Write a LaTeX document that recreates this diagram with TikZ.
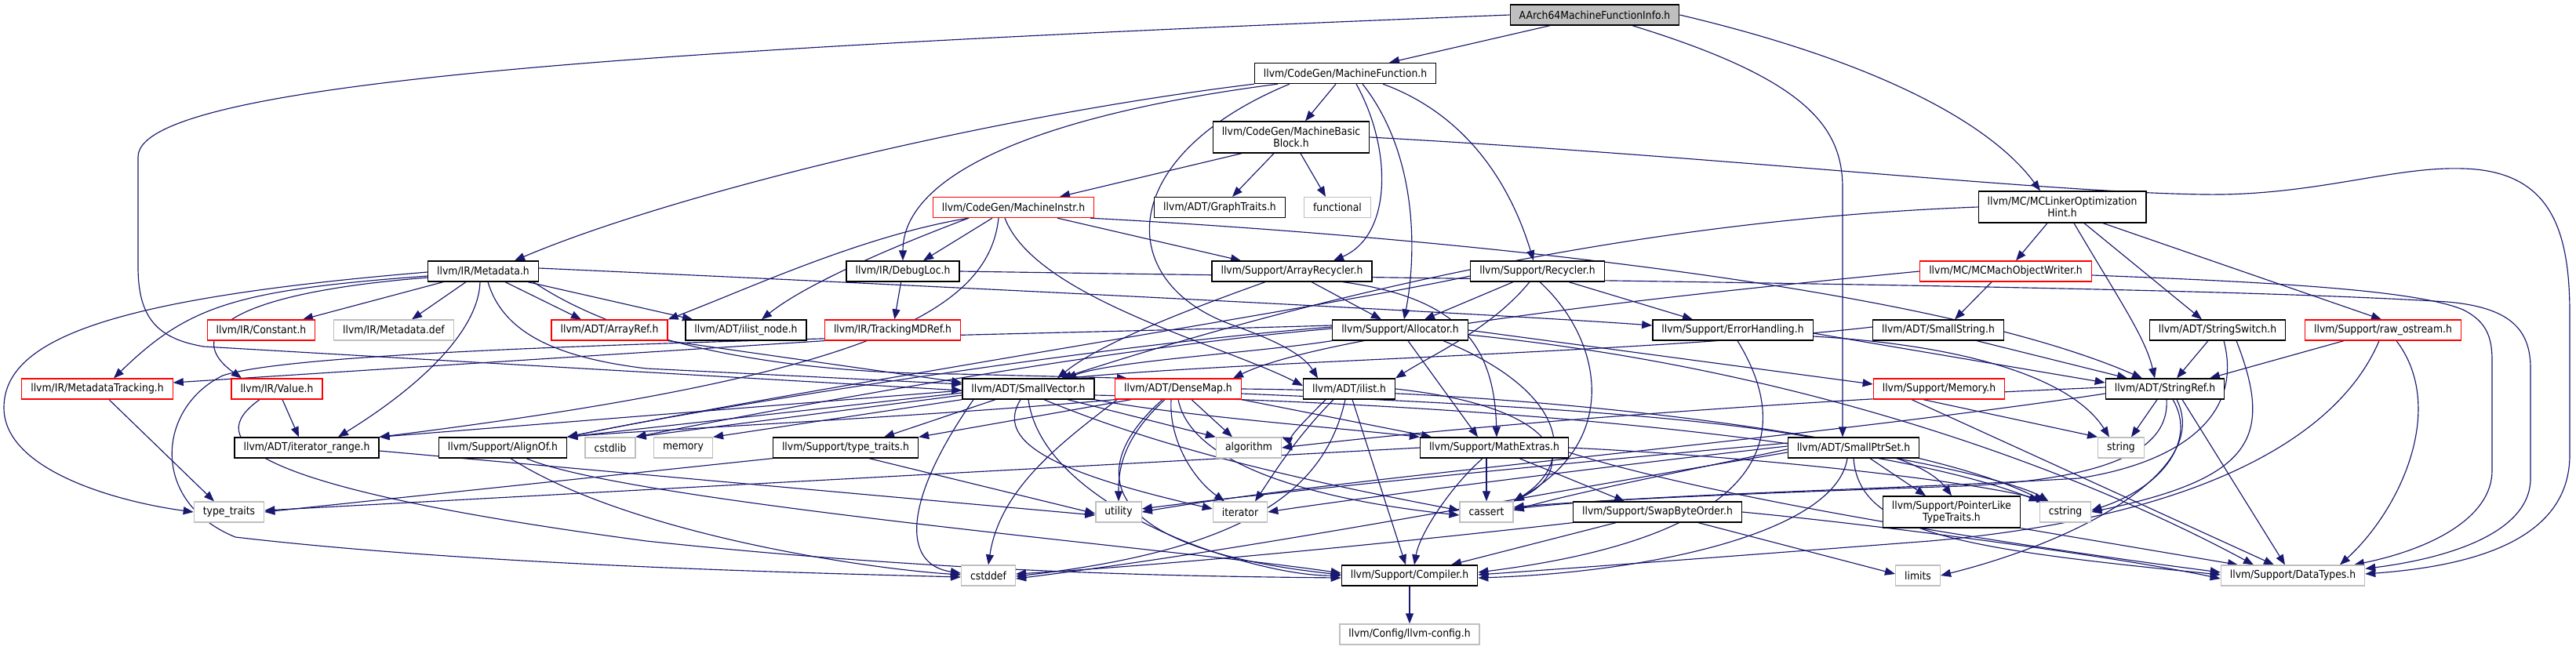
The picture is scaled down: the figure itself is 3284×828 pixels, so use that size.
\documentclass[tikz,border=0pt]{standalone}
\usepackage{fontspec}
\newfontfamily\dvs[FakeStretch=0.9]{DejaVu Sans}
\usetikzlibrary{arrows.meta}
\definecolor{edgec}{HTML}{191970}
\definecolor{grayb}{HTML}{BFBFBF}
\definecolor{redb}{HTML}{FF0000}
\pgfdeclarelayer{bg}
\pgfsetlayers{bg,main}
\begin{document}
\begin{tikzpicture}[x=1pt,y=-1pt,
  nb/.style={draw=black, line width=1.3pt, fill=white, font=\dvs\fontsize{13.8}{15}\selectfont, minimum height=26pt, inner xsep=11.5pt, inner ysep=0pt},
  nr/.style={nb, draw=redb},
  ng/.style={nb, draw=grayb},
  nroot/.style={nb, fill=grayb},
  two/.style={align=center, minimum height=40pt},
  e/.style={draw=edgec, line width=1.15pt, -{Triangle[length=13pt,width=10pt]}}]
\path[use as bounding box] (0,0) rectangle (3284,828);
% rank 0-4
\node[nroot] (A) at (2033,19) {AArch64MachineFunctionInfo.h};
\node[nb] (MF) at (1715,93.5) {llvm/CodeGen/MachineFunction.h};
\node[nb,two] (MBB) at (1646,175) {llvm/CodeGen/MachineBasic\\Block.h};
\node[nr] (MI) at (1292,264.5) {llvm/CodeGen/MachineInstr.h};
\node[nb] (GT) at (1555,264.5) {llvm/ADT/GraphTraits.h};
\node[ng] (FN) at (1705,264.5) {functional};
\node[nb,two] (LOH) at (2629,264) {llvm/MC/MCLinkerOptimization\\Hint.h};
\node[nb] (MD) at (616,346) {llvm/IR/Metadata.h};
\node[nb] (DL) at (1151,346) {llvm/IR/DebugLoc.h};
\node[nb] (AR) at (1647,346) {llvm/Support/ArrayRecycler.h};
\node[nb] (RC) at (1960,346) {llvm/Support/Recycler.h};
\node[nr] (MOW) at (2557,346) {llvm/MC/MCMachObjectWriter.h};
% rank 5
\node[nr] (CONST) at (333,421) {llvm/IR/Constant.h};
\node[ng] (MDDEF) at (502,421) {llvm/IR/Metadata.def};
\node[nr] (AREF) at (777,421) {llvm/ADT/ArrayRef.h};
\node[nb] (ILN) at (951,421) {llvm/ADT/ilist\_node.h};
\node[nr] (TMD) at (1138,421) {llvm/IR/TrackingMDRef.h};
\node[nb] (ALLOC) at (1785,421) {llvm/Support/Allocator.h};
\node[nb] (EH) at (2209,421) {llvm/Support/ErrorHandling.h};
\node[nb] (SS) at (2471,421) {llvm/ADT/SmallString.h};
\node[nb] (SSW) at (2827,421) {llvm/ADT/StringSwitch.h};
\node[nr] (ROS) at (3038,421) {llvm/Support/raw\_ostream.h};
% rank 6
\node[nr] (MDT) at (124,496) {llvm/IR/MetadataTracking.h};
\node[nr] (VAL) at (353,496) {llvm/IR/Value.h};
\node[nb] (SV) at (1311,496) {llvm/ADT/SmallVector.h};
\node[nr] (DM) at (1502,496) {llvm/ADT/DenseMap.h};
\node[nb] (IL) at (1720,496) {llvm/ADT/ilist.h};
\node[nr] (MEM) at (2472,496) {llvm/Support/Memory.h};
\node[nb] (SR) at (2760,496) {llvm/ADT/StringRef.h};
% rank 7
\node[nb] (IR) at (391,571) {llvm/ADT/iterator\_range.h};
\node[nb] (AO) at (641,571) {llvm/Support/AlignOf.h};
\node[ng] (CSTDLIB) at (778,571) {cstdlib};
\node[ng] (MEMORY) at (871,571) {memory};
\node[nb] (STT) at (1078,571) {llvm/Support/type\_traits.h};
\node[ng] (ALG) at (1592,571) {algorithm};
\node[nb] (ME) at (1905,571) {llvm/Support/MathExtras.h};
\node[nb] (SPS) at (2363,571) {llvm/ADT/SmallPtrSet.h};
\node[ng] (STR) at (2704,571) {string};
% rank 8
\node[ng] (TT) at (292,653) {type\_traits};
\node[ng] (UT) at (1426,653) {utility};
\node[ng] (IT) at (1581,653) {iterator};
\node[ng] (CA) at (1895,653) {cassert};
\node[nb] (SBO) at (2113,653) {llvm/Support/SwapByteOrder.h};
\node[nb,two] (PLT) at (2488,653) {llvm/Support/PointerLike\\TypeTraits.h};
\node[ng] (CSTR) at (2633,653) {cstring};
% rank 9-10
\node[ng] (CD) at (1260,734) {cstddef};
\node[nb] (COMP) at (1797,734) {llvm/Support/Compiler.h};
\node[ng] (LIM) at (2445,734) {limits};
\node[ng] (DT) at (2923,734) {llvm/Support/DataTypes.h};
\node[ng] (CFG) at (1797,809) {llvm/Config/llvm-config.h};

\begin{pgfonlayer}{bg}
% AArch64
\draw[e] ([xshift=-57pt]A.south) -- ([xshift=56pt]MF.north);
\draw[e] (A.west) .. controls (900,60) and (176,100) .. (176,200) -- (176,340) .. controls (176,405) and (200,432) .. (260,442) -- ([yshift=-2pt]SV.west);
\draw[e] ([xshift=48pt]A.south) .. controls (2300,100) and (2349,160) .. (2349,240) -- ([xshift=-14pt]SPS.north);
\draw[e] (A.east) .. controls (2400,80) and (2540,160) .. ([xshift=-28pt]LOH.north);
% MachineFunction
\draw[e] (MF.south west) .. controls (1250,150) and (850,250) .. ([xshift=40pt]MD.north);
\draw[e] ([xshift=-86pt]MF.south) .. controls (1300,150) and (1151,230) .. (DL.north);
\draw[e] ([xshift=-12pt]MF.south) -- ([xshift=18pt]MBB.north);
\draw[e] ([xshift=14pt]MF.south) .. controls (1775,190) and (1775,300) .. ([xshift=53pt]AR.north);
\draw[e] ([xshift=22pt]MF.south) .. controls (1810,200) and (1805,330) .. ([xshift=5pt]ALLOC.north);
\draw[e] ([xshift=48pt]MF.south) .. controls (1880,150) and (1930,250) .. ([xshift=-5pt]RC.north);
\draw[e] ([xshift=-71pt]MF.south) .. controls (1420,200) and (1420,360) .. (1570,414) .. controls (1620,432) and (1660,450) .. ([xshift=-40pt]IL.north);
% MachineBasicBlock
\draw[e] ([xshift=-63pt]MBB.south) -- ([xshift=59pt]MI.north);
\draw[e] ([xshift=-22pt]MBB.south) -- ([xshift=16pt]GT.north);
\draw[e] ([xshift=12pt]MBB.south) -- ([xshift=-15pt]FN.north);
\draw[e] (MBB.east) .. controls (2200,200) and (2600,245) .. (2810,248) .. controls (2950,250) and (3050,212) .. (3140,215) .. controls (3250,218) and (3276,290) .. (3276,400) -- (3276,580) .. controls (3276,690) and (3150,722) .. ([yshift=2pt]DT.east);
% MachineInstr
\draw[e] ([xshift=-57pt]MI.south) .. controls (1100,300) and (950,370) .. (AREF.north east);
\draw[e] ([xshift=-57pt]MI.south) .. controls (1150,310) and (1030,360) .. ([xshift=20pt]ILN.north);
\draw[e] ([xshift=-27pt]MI.south) -- ([xshift=26pt]DL.north);
\draw[e] ([xshift=-19pt]MI.south) .. controls (1260,400) and (1100,480) .. (IR.north east);
\draw[e] ([xshift=-11pt]MI.south) .. controls (1320,380) and (1560,440) .. ([yshift=4pt]IL.west);
\draw[e] ([xshift=56pt]MI.south) -- ([xshift=-65pt]AR.north);
\draw[e] ([xshift=98pt]MI.south) .. controls (1800,300) and (2450,360) .. ([xshift=-29pt]SR.north);
% LinkerOptimizationHint
\draw[e] ([xshift=-19pt]LOH.south) -- ([xshift=13pt]MOW.north);
\draw[e] ([xshift=15pt]LOH.south) .. controls (2700,380) and (2735,430) .. ([xshift=-13pt]SR.north);
\draw[e] ([xshift=28pt]LOH.south) -- ([xshift=-20pt]SSW.north);
\draw[e] ([xshift=52pt]LOH.south) -- ([xshift=-2pt]ROS.north);
\draw[e] (LOH.west) .. controls (2100,280) and (1700,370) .. ([xshift=42pt]SV.north);
% MachObjectWriter
\draw[e] ([xshift=-18pt]MOW.south) -- ([xshift=21pt]SS.north);
\draw[e] ([yshift=-5pt]MOW.east) .. controls (2900,360) and (3080,370) .. (3140,395) .. controls (3170,410) and (3177,430) .. (3177,460) -- (3177,600) .. controls (3177,660) and (3100,700) .. ([xshift=78pt]DT.north);
\draw[e] (MOW.west) .. controls (2200,370) and (1700,420) .. ([xshift=70pt]DM.north);
% DebugLoc
\draw[e] (DL) -- (TMD);
\draw[e] (DL.east) .. controls (2000,358) and (2800,365) .. (3120,385) .. controls (3200,392) and (3226,420) .. (3226,470) -- (3226,610) .. controls (3226,680) and (3120,712) .. ([yshift=-5pt]DT.north east);
% Metadata
\draw[e] ([yshift=-6pt]MD.west) .. controls (300,370) and (240,390) .. ([xshift=21pt]MDT.north);
\draw[e] ([yshift=-8pt]MD.west) .. controls (280,375) and (235,430) .. ([xshift=-45pt]VAL.north);
\draw[e] ([yshift=-1pt]MD.west) .. controls (150,380) and (5,430) .. (5,520) .. controls (5,600) and (150,640) .. (TT.west);
\draw[e] ([xshift=-51pt]MD.south) -- ([xshift=53pt]CONST.north);
\draw[e] ([xshift=-22pt]MD.south) -- ([xshift=23pt]MDDEF.north);
\draw[e] ([xshift=-4pt]MD.south) .. controls (610,420) and (540,490) .. ([xshift=40pt]IR.north);
\draw[e] ([xshift=6pt]MD.south) .. controls (640,420) and (700,455) .. (824,470) -- ([yshift=6pt]SV.west);
\draw[e] ([xshift=28pt]MD.south) -- ([xshift=-36pt]AREF.north);
\draw[e] ([xshift=57pt]MD.south) -- ([xshift=-68pt]ILN.north);
\draw[e] ([yshift=4pt]MD.east) .. controls (1200,365) and (1900,400) .. ([yshift=6pt]EH.west);
\draw[e] ([xshift=64pt]MD.south) .. controls (800,440) and (1000,476) .. (1220,477) -- ([xshift=-65pt]DM.north);
% TrackingMDRef, ArrayRef, MetadataTracking, Value
\draw[e] (TMD.south west) -- ([yshift=8pt]MDT.east);
\draw[e] (AREF.south east) -- ([yshift=8pt]SV.west);
\draw[e] ([xshift=15pt]MDT.south) -- ([xshift=-19pt]TT.north);
\draw[e] ([xshift=7pt]VAL.south) -- ([xshift=-10pt]IR.north);
\draw[e] ([xshift=-22pt]VAL.south) .. controls (260,560) and (300,620) .. (824,690) .. controls (1200,730) and (1500,735) .. ([yshift=-3pt]COMP.west);
% ArrayRecycler
\draw[e] ([xshift=-34pt]AR.south) .. controls (1500,400) and (1400,440) .. ([xshift=37pt]SV.north);
\draw[e] ([xshift=25pt]AR.south) -- ([xshift=-24pt]ALLOC.north);
\draw[e] ([xshift=65pt]AR.south) .. controls (1860,380) and (1905,440) .. ([xshift=3pt]ME.north);
% Recycler
\draw[e] ([yshift=-6pt]RC.west) .. controls (1700,390) and (1000,500) .. (AO.north east);
\draw[e] ([xshift=-31pt]RC.south) -- ([xshift=31pt]ALLOC.north);
\draw[e] ([xshift=-10pt]RC.south) .. controls (1900,420) and (1830,450) .. ([xshift=59pt]IL.north);
\draw[e] ([xshift=3pt]RC.south) .. controls (2040,430) and (2070,560) .. (CA.north east);
\draw[e] ([xshift=40pt]RC.south) -- ([xshift=-51pt]EH.north);
% Allocator
\draw[e] (ALLOC.south west) .. controls (1600,450) and (1420,460) .. ([xshift=48pt]SV.north);
\draw[e] ([yshift=4pt]ALLOC.west) .. controls (1400,440) and (900,520) .. (AO.north east);
\draw[e] ([yshift=2pt]ALLOC.west) .. controls (1400,445) and (1000,520) .. (CSTDLIB.north east);
\draw[e] ([yshift=6pt]ALLOC.west) .. controls (1200,430) and (400,440) .. (284,479) .. controls (200,520) and (190,640) .. (300,685) .. controls (600,720) and (1000,730) .. ([yshift=-2pt]CD.west);
\draw[e] ([xshift=10pt]ALLOC.south) -- ([xshift=-21pt]ME.north);
\draw[e] ([xshift=55pt]ALLOC.south) .. controls (2000,500) and (2010,590) .. (CA.north east);
\draw[e] (ALLOC.east) -- ([yshift=6pt]MEM.west);
\draw[e] ([yshift=-6pt]ALLOC.east) .. controls (2300,470) and (2650,600) .. ([xshift=-50pt]DT.north);
% ErrorHandling
\draw[e] ([xshift=6pt]EH.south) .. controls (2280,540) and (2280,680) .. ([yshift=4pt]COMP.east);
\draw[e] ([yshift=-4pt]EH.east) -- ([yshift=8pt]SR.west);
\draw[e] ([yshift=-8pt]EH.east) .. controls (2500,440) and (2640,480) .. ([xshift=-15pt]STR.north);
% SmallString, StringSwitch, raw_ostream
\draw[e] ([xshift=49pt]SS.south) -- ([xshift=-48pt]SR.north);
\draw[e] ([yshift=4pt]SS.west) .. controls (2100,450) and (1600,460) .. ([xshift=48pt]SV.north);
\draw[e] ([xshift=-12pt]SSW.south) -- ([xshift=15pt]SR.north);
\draw[e] ([xshift=8pt]SSW.south) .. controls (2860,530) and (2780,590) .. (2650,610) .. controls (2400,625) and (2100,630) .. ([yshift=4pt]CA.east);
\draw[e] ([xshift=24pt]SSW.south) .. controls (2900,560) and (2870,610) .. (CSTR.east);
\draw[e] ([xshift=-50pt]ROS.south) -- ([xshift=57pt]SR.north);
\draw[e] ([xshift=-5pt]ROS.south) .. controls (2980,560) and (2800,660) .. (2460,690) .. controls (2200,710) and (2000,725) .. ([yshift=1pt]COMP.east);
\draw[e] ([xshift=17pt]ROS.south) .. controls (3120,520) and (3060,650) .. ([xshift=60pt]DT.north);
% SmallVector
\draw[e] ([yshift=-2pt]SV.west) -- (IR.north east);
\draw[e] ([yshift=-5pt]SV.west) -- (AO.north east);
\draw[e] ([yshift=-8pt]SV.west) -- (CSTDLIB.north east);
\draw[e] (SV.south west) -- (MEMORY.north east);
\draw[e] ([xshift=-42pt]SV.south) -- ([xshift=49pt]STT.north);
\draw[e] ([xshift=-10pt]SV.south) .. controls (1270,560) and (1330,600) .. ([yshift=4pt]IT.west);
\draw[e] ([xshift=20pt]SV.south) .. controls (1500,580) and (1700,620) .. ([yshift=2pt]CA.west);
\draw[e] ([xshift=50pt]SV.south) -- (ALG.north west);
\draw[e] (SV.south east) .. controls (1500,530) and (1700,545) .. (ME.north west);
\draw[e] ([xshift=-70pt]SV.south) .. controls (1150,640) and (1150,720) .. ([yshift=3pt]CD.west);
\draw[e] (SV.south) .. controls (1330,650) and (1600,735) .. (COMP.west);
\draw[e] ([yshift=-8pt]SV.east) .. controls (1900,515) and (2400,560) .. (CSTR.north west);
% DenseMap
\draw[e] (DM.south west) .. controls (1200,530) and (800,550) .. (AO.north east);
\draw[e] ([xshift=-60pt]DM.south) -- (STT.north east);
\draw[e] ([xshift=-78pt]DM.south) .. controls (1360,560) and (1275,620) .. (CD.north);
\draw[e] ([xshift=-17pt]DM.south) .. controls (1430,560) and (1426,600) .. (UT.north);
\draw[e] ([xshift=-20pt]DM.south) .. controls (1380,600) and (1400,700) .. ([yshift=1pt]COMP.west);
\draw[e] ([xshift=-9pt]DM.south) .. controls (1490,560) and (1520,610) .. ([xshift=-20pt]IT.north);
\draw[e] ([xshift=17pt]DM.south) -- ([xshift=-21pt]ALG.north);
\draw[e] ([xshift=0pt]DM.south) .. controls (1520,600) and (1700,640) .. ([yshift=-4pt]CA.west);
\draw[e] (DM.south east) -- ([xshift=-80pt]ME.north);
\draw[e] ([yshift=-6pt]DM.east) .. controls (2000,520) and (2420,540) .. (PLT.north);
\draw[e] (DM.east) .. controls (2000,500) and (2450,560) .. ([xshift=6pt]CSTR.north west);
% ilist
\draw[e] ([xshift=-30pt]IL.south) .. controls (1660,540) and (1640,560) .. (ALG.north east);
\draw[e] ([xshift=-20pt]IL.south) .. controls (1650,560) and (1620,610) .. ([xshift=19pt]IT.north);
\draw[e] ([xshift=-5pt]IL.south) .. controls (1690,620) and (1600,700) .. ([yshift=-1pt]CD.east);
\draw[e] ([xshift=4pt]IL.south) -- ([xshift=-5pt]COMP.north);
\draw[e] (IL.east) .. controls (2000,520) and (2010,600) .. (CA.north east);
% Memory
\draw[e] ([xshift=-20pt]MEM.south) -- (STR.north west);
\draw[e] ([xshift=-35pt]MEM.south) -- ([xshift=-24pt]DT.north);
% StringRef
\draw[e] ([yshift=2pt]SR.west) .. controls (2300,510) and (1900,540) .. (ALG.east);
\draw[e] ([yshift=-6pt]SR.west) .. controls (2300,560) and (1700,610) .. (UT.east);
\draw[e] ([xshift=-10pt]SR.south) -- ([xshift=13pt]STR.north);
\draw[e] ([xshift=2pt]SR.south) .. controls (2765,560) and (2720,610) .. (2500,620) .. controls (2200,630) and (2000,640) .. ([yshift=6pt]CA.east);
\draw[e] ([xshift=10pt]SR.south) .. controls (2800,560) and (2760,620) .. ([yshift=2pt]CSTR.east);
\draw[e] ([xshift=15pt]SR.south) .. controls (2820,600) and (2650,690) .. (LIM.east);
\draw[e] ([xshift=22pt]SR.south) -- ([xshift=-10pt]DT.north);
% MathExtras
\draw[e] ([xshift=-10pt]ME.south) -- (CA.north);
\draw[e] ([xshift=-15pt]ME.south) .. controls (1850,620) and (1810,680) .. ([xshift=6pt]COMP.north);
\draw[e] ([xshift=32pt]ME.south) -- ([xshift=-42pt]SBO.north);
\draw[e] (ME.east) .. controls (2200,580) and (2500,610) .. ([xshift=10pt]CSTR.north west);
\draw[e] (ME.west) -- ([yshift=2pt]TT.east);
\draw[e] ([yshift=-6pt]ME.east) .. controls (2200,640) and (2600,700) .. ([yshift=4pt]DT.west);
% SmallPtrSet
\draw[e] ([yshift=6pt]SPS.west) .. controls (2000,590) and (1600,630) .. ([yshift=4pt]UT.east);
\draw[e] ([yshift=2pt]SPS.west) .. controls (2000,600) and (1700,640) .. (IT.east);
\draw[e] ([yshift=-2pt]SPS.west) .. controls (2150,600) and (2000,630) .. ([yshift=2pt]CA.east);
\draw[e] ([xshift=-8pt]SPS.south) .. controls (2340,680) and (2100,730) .. ([yshift=-3pt]COMP.east);
\draw[e] (SPS.south) .. controls (2370,680) and (2500,700) .. ([yshift=1pt]DT.west);
\draw[e] ([xshift=21pt]SPS.south) -- ([xshift=-33pt]PLT.north);
\draw[e] ([xshift=55pt]SPS.south) .. controls (2500,600) and (2580,620) .. ([xshift=12pt]CSTR.north west);
\draw[e] ([yshift=-6pt]SPS.west) .. controls (1900,640) and (1600,700) .. ([yshift=-4pt]CD.east);
% PointerLikeTypeTraits, SwapByteOrder
\draw[e] (PLT.south east) -- ([xshift=-70pt]DT.north);
\draw[e] ([xshift=-53pt]SBO.south) -- ([xshift=53pt]COMP.north);
\draw[e] ([xshift=52pt]SBO.south) -- ([yshift=2pt]LIM.west);
\draw[e] (SBO.east) .. controls (2400,670) and (2700,710) .. ([yshift=-4pt]DT.west);
\draw[e] (SBO.south west) .. controls (1800,690) and (1500,720) .. ([yshift=2pt]CD.east);
% Compiler, AlignOf, type_traits, iterator_range
\draw[e] (COMP) -- (CFG);
\draw[e] ([xshift=30pt]AO.south) .. controls (800,640) and (1500,700) .. ([yshift=3pt]COMP.west);
\draw[e] ([xshift=10pt]AO.south) .. controls (800,680) and (1100,725) .. ([yshift=1pt]CD.west);
\draw[e] (STT.south west) -- (TT.east);
\draw[e] ([xshift=30pt]STT.south) -- ([yshift=-2pt]UT.west);
\draw[e] ([yshift=-4pt]IR.east) -- ([yshift=-4pt]UT.west);
\end{pgfonlayer}
\end{tikzpicture}
\end{document}
